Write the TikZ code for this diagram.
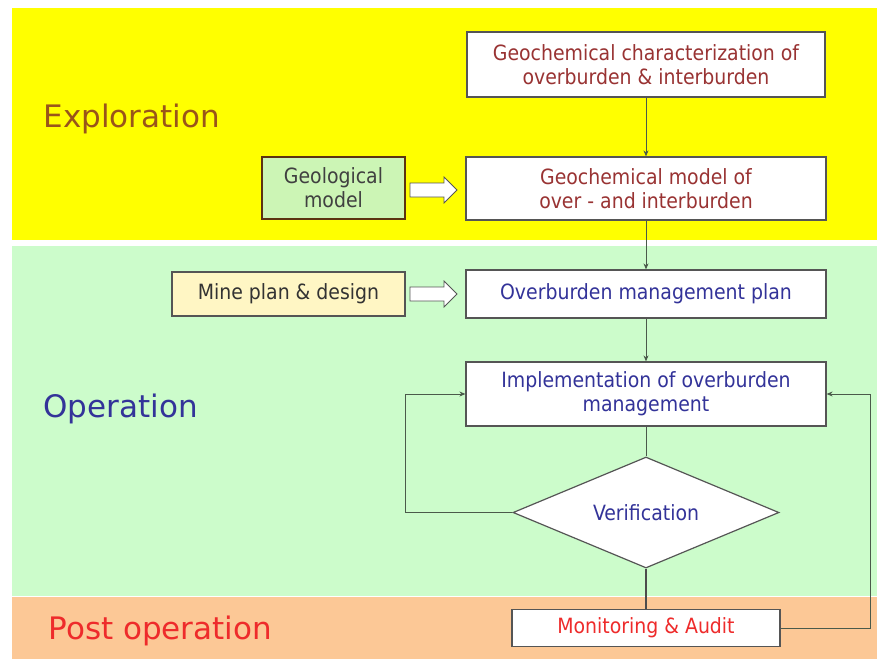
\documentclass[tikz,border=0pt]{standalone}
\usepackage{fontspec}
\setmainfont{DejaVu Sans}
\newfontfamily\boxfont{DejaVu Sans Condensed}
\usetikzlibrary{shapes.geometric,arrows.meta}
\definecolor{bandyellow}{HTML}{FFFF00}
\definecolor{bandgreen}{HTML}{CCFCCB}
\definecolor{bandorange}{HTML}{FCC896}
\definecolor{geofill}{HTML}{CCF5B5}
\definecolor{minefill}{HTML}{FFF6C4}
\definecolor{maroon}{HTML}{993333}
\definecolor{bluetxt}{HTML}{333399}
\definecolor{redtxt}{HTML}{EE2B2B}
\definecolor{olivetxt}{HTML}{99551A}
\definecolor{boxline}{HTML}{555555}
\definecolor{lineclr}{HTML}{4A5A4A}
\begin{document}
\begin{tikzpicture}[x=1pt,y=-1pt,
  procbox/.style={draw=boxline,line width=1.2pt,fill=white,rectangle,inner sep=2pt,align=center,
    font=\boxfont\fontsize{21}{24}\selectfont},
  heading/.style={anchor=west,font=\fontsize{31}{34}\selectfont},
  conn/.style={draw=lineclr,line width=1pt},
  arr/.style={conn,-{Stealth[length=6pt,width=5pt]}},
  hollow/.style={draw=boxline,fill=white,line width=0.8pt,line join=miter}
]
\useasboundingbox (0,0) rectangle (877,659);
\fill[white] (0,0) rectangle (877,659);
\fill[bandyellow] (12,8) rectangle (877,240);
\fill[bandgreen] (12,246) rectangle (877,596);
\fill[bandorange] (12,597) rectangle (877,659);

\node[heading,text=olivetxt] (hexp) at (40,119) {Exploration};
\node[heading,text=bluetxt] (hop) at (40,409) {Operation};
\node[heading,text=redtxt] (hpost) at (45,631) {Post operation};

\node[procbox,text=maroon,minimum width=358pt,minimum height=65pt] (char) at (646,64.5)
  {Geochemical characterization of\\overburden \& interburden};
\node[procbox,text=maroon,minimum width=360pt,minimum height=63pt] (model) at (646,188.5)
  {Geochemical model of\\over - and interburden};
\node[procbox,fill=geofill,draw=olivetxt!60!black,text=black!75,minimum width=143pt,minimum height=62pt] (geo) at (333.5,188)
  {Geological\\model};
\node[procbox,fill=minefill,draw=boxline,text=black!80,minimum width=233pt,minimum height=44pt] (mine) at (288.5,294)
  {Mine plan \& design};
\node[procbox,text=bluetxt,minimum width=360pt,minimum height=48pt] (plan) at (646,294)
  {Overburden management plan};
\node[procbox,text=bluetxt,minimum width=360pt,minimum height=64pt] (impl) at (646,394)
  {Implementation of overburden\\management};
\node[procbox,diamond,aspect=2.4,text=bluetxt,minimum width=266pt,minimum height=111pt,inner sep=0pt] (ver) at (646,512.5)
  {Verification};
\node[procbox,text=redtxt,minimum width=268pt,minimum height=37pt] (mon) at (646,628)
  {Monitoring \& Audit};

% hollow block arrows
\draw[hollow] (410,183) -- (444,183) -- (444,177) -- (457,190) -- (444,203) -- (444,197) -- (410,197) -- cycle;
\draw[hollow] (410,287) -- (444,287) -- (444,281) -- (457,294) -- (444,307) -- (444,301) -- (410,301) -- cycle;

\coordinate (lc) at (405,512.5);
\coordinate (rc) at (870,628);

\draw[arr] (char.south) -- (model.north);
\draw[arr] (model.south) -- (plan.north);
\draw[arr] (plan.south) -- (impl.north);
\draw[conn] (impl.south) -- (ver.north);
\draw[conn,line width=2pt,draw=black!70] (ver.south) -- (mon.north);
\draw[arr] (ver.west) -- (lc) |- (impl.west);
\draw[arr] (mon.east) -- (rc) |- (impl.east);
\end{tikzpicture}
\end{document}
